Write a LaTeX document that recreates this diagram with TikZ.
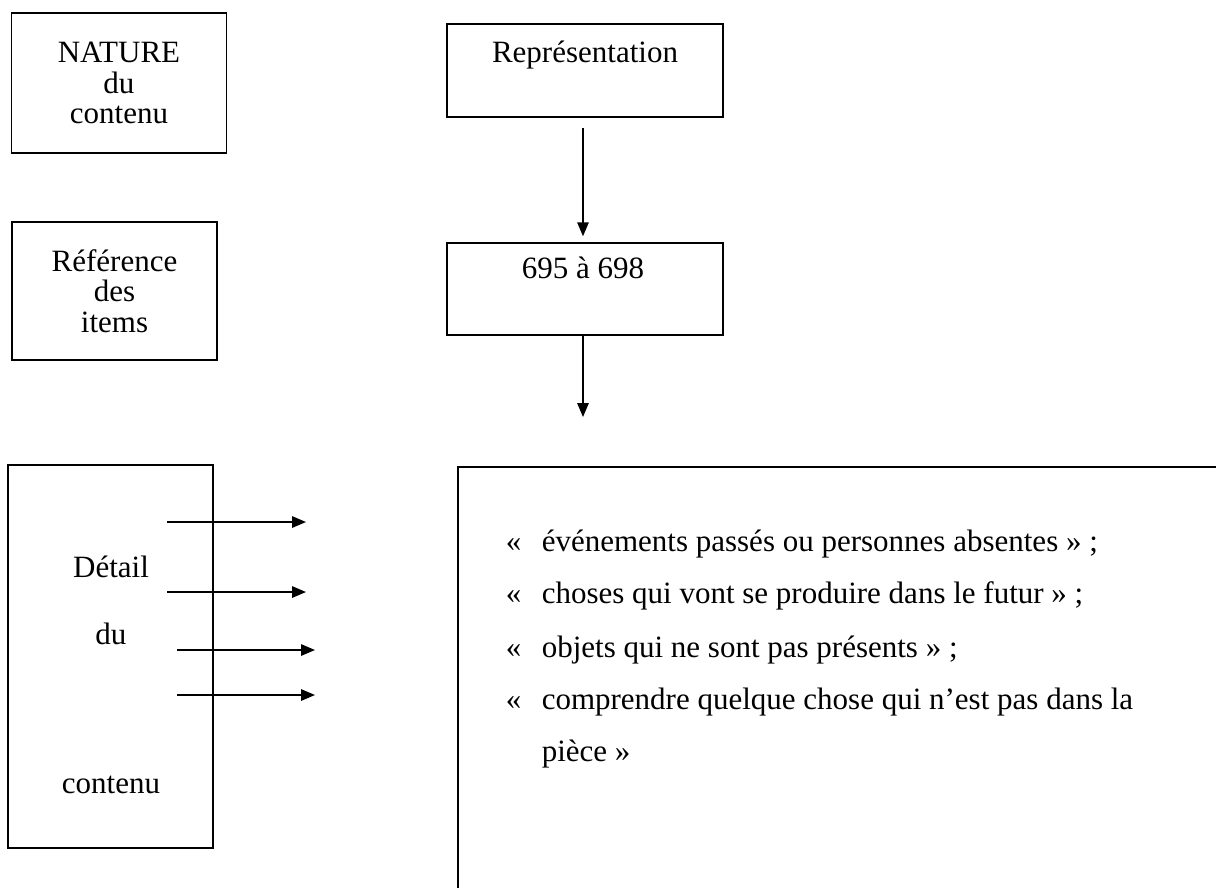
\documentclass[tikz,border=0pt]{standalone}
\usepackage{fontspec}
\setmainfont{Liberation Serif}
\usetikzlibrary{positioning,arrows.meta}
\tikzset{
        >={Triangle[length=5.6pt,width=4.6pt]}, % filled arrow heads
        box/.style={draw, line width=0.6pt, inner sep=0pt},
        txt/.style={align=center, font=\fontsize{12.4}{12.2}\selectfont},
        line/.style={anchor=base west, inner sep=0pt, font=\fontsize{12.4}{14}\selectfont},
}

\begin{document}
\begin{tikzpicture}[x=0.4pt,y=-0.4pt,line width=0.6pt]
\useasboundingbox (0,0) rectangle (1216,888);

% left column
\node[box,txt,minimum width=86pt,minimum height=56pt] (nature) at (119,83) {NATURE\\du\\contenu};
\node[box,txt,minimum width=82pt,minimum height=55.2pt] (refitems) at (114.5,291) {Référence\\des\\items};
\node[box,minimum width=82pt,minimum height=153.2pt] (detail) at (110.5,656.5) {};
\node[txt] (detailA) at (111,567) {Détail};
\node[txt] (detailB) at (111,634) {du};
\node[txt] (detailC) at (111,785) {contenu};

% right column
\node[box,minimum width=110.4pt,minimum height=37.2pt] (repr) at (585,70.5) {};
\node[txt] (reprT) at (585,55) {Représentation};
\node[box,minimum width=110.4pt,minimum height=36.8pt] (items) at (585,289) {};
\node[txt] (itemsT) at (583,268) {695 à 698};
\coordinate (tip) at (583,417);
\draw[->,shorten <=4pt,shorten >=2.4pt] (itemsT |- repr.south) -- (itemsT |- items.north);
\draw[->] (tip |- items.south) -- (tip);

\foreach \i/\xa/\xb/\y in {1/167/306/522, 2/167/306/592, 3/177/315/650, 4/177/315/695}
{
  \coordinate (a\i) at (\xa,\y);
  \coordinate (b\i) at (\xb,\y);
  \draw[->] (a\i) -- (b\i);
}

% open frame of the list
\draw (1216,467) -- (458,467) -- (458,888);
\foreach \i/\y/\t in {1/551/{événements passés ou personnes absentes » ;},
                      2/603/{choses qui vont se produire dans le futur » ;},
                      3/657/{objets qui ne sont pas présents » ;},
                      4/709/{comprendre quelque chose qui n’est pas dans la}}
{
  \node[line] (q\i) at (505,\y) {«};
  \node[line] (l\i) at (541,\y) {\t};
}
\node[line] (l5) at (541,761) {pièce »};
\end{tikzpicture}
\end{document}
